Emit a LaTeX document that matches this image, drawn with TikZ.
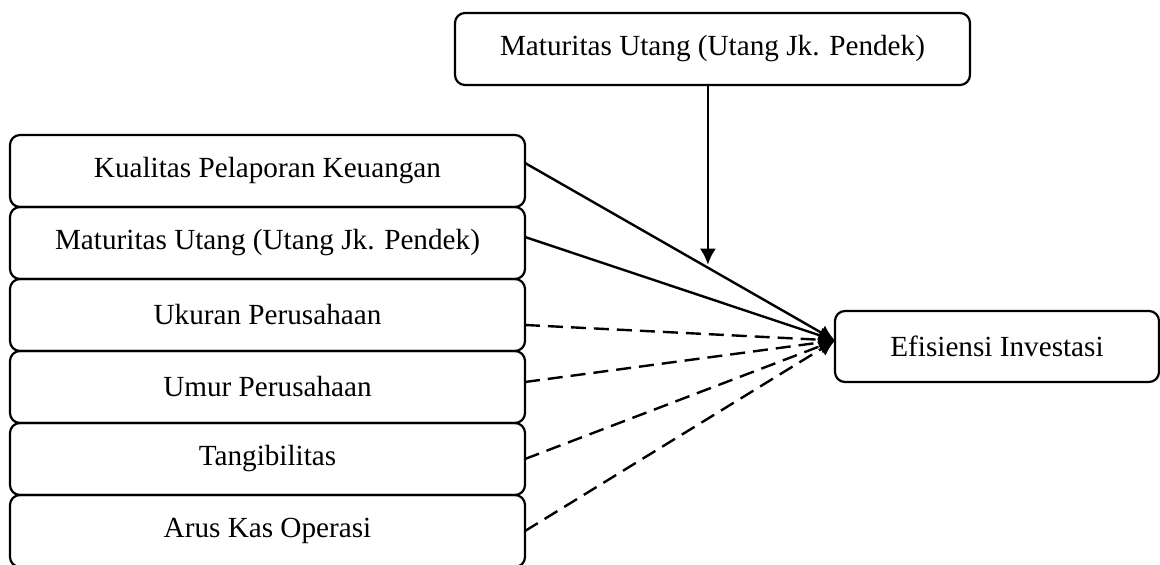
\documentclass[tikz,border=0pt]{standalone}
\usepackage{fontspec}
\setmainfont{Liberation Serif}
\usetikzlibrary{positioning,arrows.meta}
\tikzstyle{block} = [draw=black, rectangle, rounded corners=5pt, line width=1.1pt, outer sep=0pt, minimum width=257.5pt, minimum height=36pt, font=\fontsize{14.6}{17}\selectfont]
\tikzstyle{link} = [line width=1.2pt, -{Latex[length=8pt,width=8pt]}]
\tikzstyle{dlink} = [link, dash pattern=on 7.5pt off 4pt]

\begin{document}
\begin{tikzpicture}[x=0.5pt, y=-0.5pt]
	\useasboundingbox (0,0) rectangle (1160,565);

	% MODERATOR
	\node[block] (moder) at (712.5,49) {Maturitas Utang (Utang Jk. Pendek)};

	% VARIABLES
	\node[block] (kualitas) at (267.5,171) {Kualitas Pelaporan Keuangan};
	\node[block, below=0pt of kualitas] (maturitas) {Maturitas Utang (Utang Jk. Pendek)};
	\node[block, below=0pt of maturitas] (ukuran) {Ukuran Perusahaan};
	\node[block, below=0pt of ukuran] (umur) {Umur Perusahaan};
	\node[block, below=0pt of umur] (tangib) {Tangibilitas};
	\node[block, below=0pt of tangib] (arus) {Arus Kas Operasi};

	% EFISIENSI
	\node[block, minimum width=162pt, minimum height=35.5pt] (efisiensi) at (997,346.5) {Efisiensi Investasi};
	\coordinate (tip) at ([yshift=3pt]efisiensi.west);

	\draw [link] ([yshift=4pt]kualitas.east) -- coordinate[pos=0.59] (mod) (tip);
	\draw [link] ([yshift=3pt]maturitas.east) -- (tip);
	\draw [dlink] ([yshift=-5pt]ukuran.east) -- (tip);
	\draw [dlink] ([yshift=2.5pt]umur.east) -- (tip);
	\draw [dlink] (tangib.east) -- (tip);
	\draw [dlink] (arus.east) -- (tip);

	\draw [link, shorten >=1.5pt] (moder.south -| mod) -- (mod);

\end{tikzpicture}
\end{document}
